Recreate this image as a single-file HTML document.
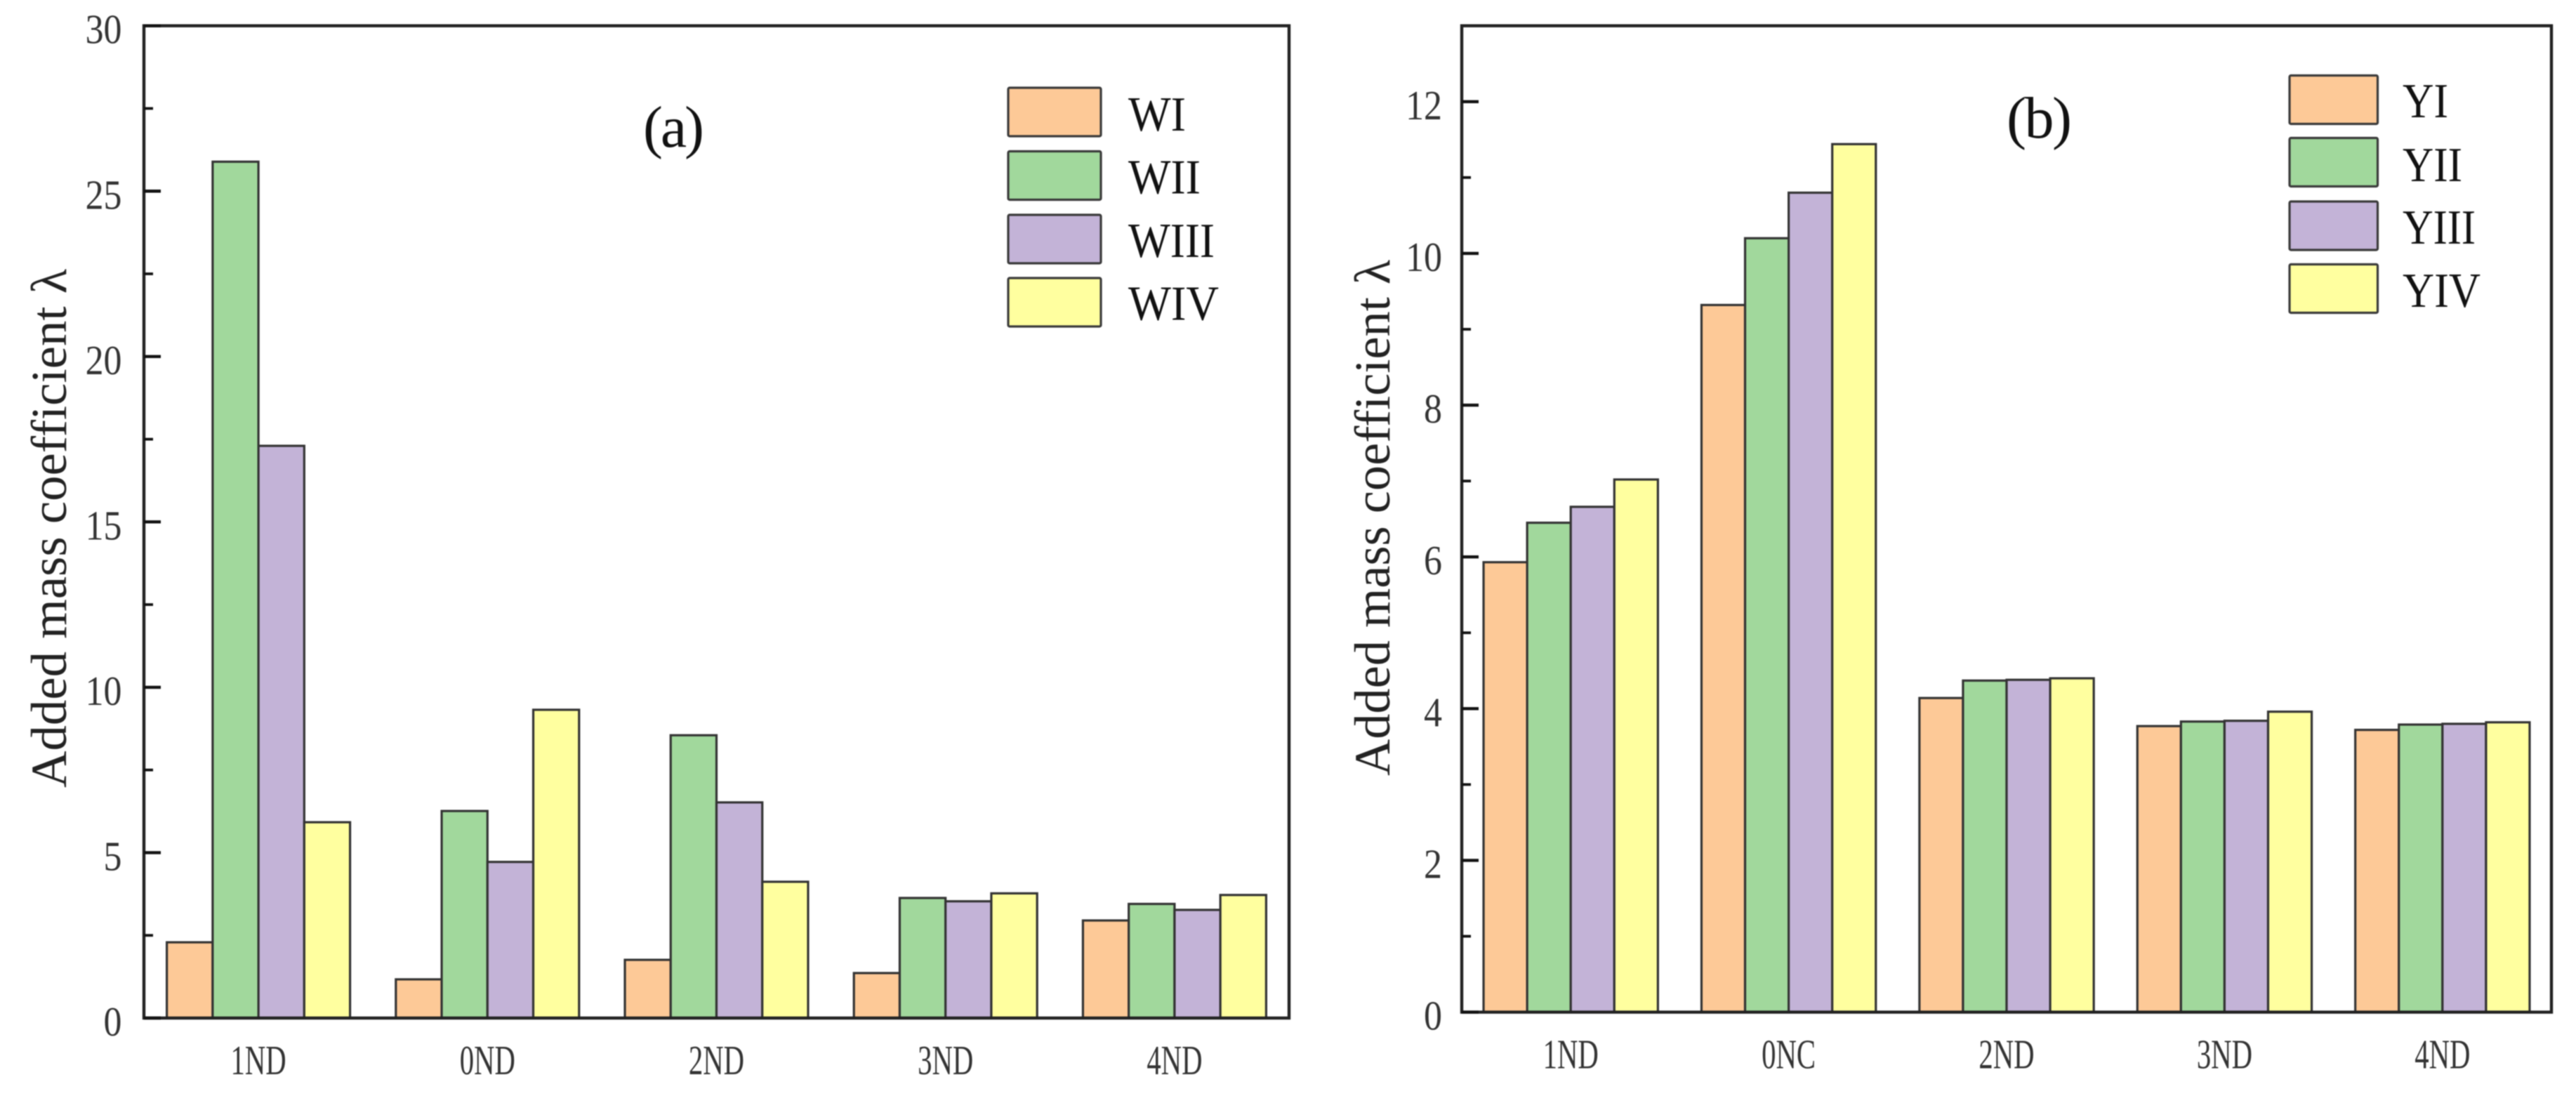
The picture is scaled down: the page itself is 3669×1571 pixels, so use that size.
<!DOCTYPE html>
<html lang="en">
<head>
<meta charset="utf-8">
<title>Added mass coefficient charts</title>
<style>
html,body{margin:0;padding:0;background:#fff;width:3669px;height:1571px;overflow:hidden}
svg{display:block;filter:blur(0.7px)}
text{font-family:"Liberation Serif","Noto Serif CJK SC",serif}
</style>
</head>
<body>
<svg id="figure" xmlns="http://www.w3.org/2000/svg" width="3669" height="1571" viewBox="0 0 3669 1571"></svg>
<script>
// Panel (a) data
const categoriesA = ['1ND', '0ND', '2ND', '3ND', '4ND'];
const seriesNamesA = ['WI', 'WII', 'WIII', 'WIV'];
const seriesWI = [2.29, 1.17, 1.76, 1.36, 2.95];
const seriesWII = [25.89, 6.26, 8.55, 3.63, 3.45];
const seriesWIII = [17.3, 4.72, 6.52, 3.53, 3.27];
const seriesWIV = [5.92, 9.32, 4.12, 3.77, 3.72];
const majorTicksA = [0, 5, 10, 15, 20, 25, 30];
const minorTicksA = [2.5, 7.5, 12.5, 17.5, 22.5, 27.5];

// Panel (b) data
const categoriesB = ['1ND', '0NC', '2ND', '3ND', '4ND'];
const seriesNamesB = ['YI', 'YII', 'YIII', 'YIV'];
const seriesYI = [5.93, 9.32, 4.14, 3.77, 3.72];
const seriesYII = [6.45, 10.2, 4.37, 3.83, 3.79];
const seriesYIII = [6.66, 10.8, 4.38, 3.84, 3.80];
const seriesYIV = [7.02, 11.44, 4.40, 3.96, 3.82];
const majorTicksB = [0, 2, 4, 6, 8, 10, 12];
const minorTicksB = [1, 3, 5, 7, 9, 11];

const fills = ['#FDC997', '#A1D89C', '#C3B3D7', '#FFFF9F'];
const svg = document.getElementById('figure');
const NS = 'http://www.w3.org/2000/svg';

function make(parent, tag, attrs, name, interactable) {
  const el = document.createElementNS(NS, tag);
  for (const k in attrs) el.setAttribute(k, attrs[k]);
  
  
  parent.appendChild(el);
  return el;
}

function drawPanel(cfg) {
  const g = make(svg, 'g', {}, 'chart-panel-' + cfg.id, false);
  const yScale = v => cfg.bottom - (v / cfg.yMax) * (cfg.bottom - cfg.top);
  const band = (cfg.right - cfg.left) / cfg.categories.length;
  const barW = band * 0.8 / cfg.series.length;
  const xBar = (c, s) => cfg.left + band * c + band * 0.1 + barW * s;

  // bars
  cfg.series.forEach((values, s) => {
    values.forEach((v, c) => {
      const y = yScale(v);
      const bar = make(g, 'rect', {
        x: xBar(c, s), y: y, width: barW, height: cfg.bottom - y,
        fill: fills[s], stroke: '#333', 'stroke-width': 3.2
      }, 'bar-' + cfg.id + '-' + cfg.categories[c].toLowerCase() + '-' + cfg.seriesNames[s].toLowerCase(), false);
      const tip = document.createElementNS(NS, 'title');
      tip.textContent = cfg.seriesNames[s] + ' ' + cfg.categories[c] + ': ' + v;
      bar.appendChild(tip);
    });
  });

  // frame
  make(g, 'rect', {
    x: cfg.left, y: cfg.top, width: cfg.right - cfg.left, height: cfg.bottom - cfg.top,
    fill: 'none', stroke: '#222', 'stroke-width': 4.4
  }, 'plot-frame-' + cfg.id, false);

  // y ticks
  cfg.majorTicks.forEach(v => {
    const y = yScale(v);
    make(g, 'line', { x1: cfg.left, x2: cfg.left + 24, y1: y, y2: y, stroke: '#111', 'stroke-width': 4.4 }, 'y-major-tick-' + cfg.id + '-' + v, false);
    const t = make(g, 'text', {
      transform: 'translate(' + cfg.tickLabelX + ',' + (y + 25) + ') scale(0.88,1)',
      'text-anchor': 'end', 'font-size': 59, fill: '#333'
    }, 'y-tick-label-' + cfg.id + '-' + v, false);
    t.textContent = String(v);
  });
  cfg.minorTicks.forEach(v => {
    const y = yScale(v);
    make(g, 'line', { x1: cfg.left, x2: cfg.left + 13, y1: y, y2: y, stroke: '#111', 'stroke-width': 3.8 }, 'y-minor-tick-' + cfg.id + '-' + v, false);
  });

  // category labels
  cfg.categories.forEach((cat, c) => {
    const t = make(g, 'text', {
      transform: 'translate(' + (cfg.left + band * (c + 0.5)) + ',' + (cfg.bottom + 80) + ') scale(0.69,1)',
      'text-anchor': 'middle', 'font-size': 59, fill: '#333'
    }, 'x-tick-label-' + cfg.id + '-' + cat.toLowerCase(), false);
    t.textContent = cat;
  });

  // y-axis title
  const yt = make(g, 'text', {
    transform: 'translate(' + cfg.titleX + ',' + cfg.titleBottom + ') rotate(-90)',
    'font-size': 72, fill: '#222', textLength: cfg.titleLen, lengthAdjust: 'spacingAndGlyphs'
  }, 'y-axis-title-' + cfg.id, false);
  yt.textContent = 'Added mass coefficient \u03BB';

  // panel label
  const pl = make(g, 'text', {
    x: cfg.panelX, y: cfg.panelY, 'font-size': 84, fill: '#111',
    textLength: cfg.panelW, lengthAdjust: 'spacing'
  }, 'panel-label-' + cfg.id, false);
  pl.textContent = cfg.panelText;

  // legend
  const lg = make(g, 'g', {}, 'legend-' + cfg.id, false);
  cfg.seriesNames.forEach((name, s) => {
    const entry = make(lg, 'g', {}, 'legend-entry-' + name.toLowerCase(), false);
    make(entry, 'rect', {
      x: cfg.legX, y: cfg.legTops[s], width: cfg.legW, height: cfg.legH, rx: 2,
      fill: fills[s], stroke: '#3a3a3a', 'stroke-width': 3.2
    }, 'legend-swatch-' + name.toLowerCase(), false);
    const t = make(entry, 'text', {
      x: cfg.legTextX, y: cfg.legBases[s], 'font-size': 70, fill: '#111',
      textLength: cfg.legTextW[s], lengthAdjust: 'spacingAndGlyphs'
    }, 'legend-label-' + name.toLowerCase(), false);
    t.textContent = name;
  });
}

drawPanel({
  id: 'a', left: 205, right: 1836, top: 36.7, bottom: 1450, yMax: 30,
  categories: categoriesA, seriesNames: seriesNamesA,
  series: [seriesWI, seriesWII, seriesWIII, seriesWIV],
  majorTicks: majorTicksA, minorTicks: minorTicksA,
  tickLabelX: 173.5, titleX: 94, titleBottom: 1122, titleLen: 739,
  panelText: '(a)', panelX: 916, panelY: 209, panelW: 87,
  legX: 1436, legW: 132, legH: 69, legTops: [125, 215.5, 306, 396],
  legTextX: 1607, legBases: [186, 275.5, 366, 455.6], legTextW: [82, 103, 123, 129]
});

drawPanel({
  id: 'b', left: 2082, right: 3634, top: 36.7, bottom: 1441.6, yMax: 13,
  categories: categoriesB, seriesNames: seriesNamesB,
  series: [seriesYI, seriesYII, seriesYIII, seriesYIV],
  majorTicks: majorTicksB, minorTicks: minorTicksB,
  tickLabelX: 2054, titleX: 1979, titleBottom: 1105, titleLen: 735,
  panelText: '(b)', panelX: 2858, panelY: 196, panelW: 93,
  legX: 3261, legW: 125.5, legH: 69, legTops: [107.5, 196.5, 287, 376.5],
  legTextX: 3422, legBases: [167, 258, 347, 437], legTextW: [65, 85, 104, 111]
});
</script>
</body>
</html>
